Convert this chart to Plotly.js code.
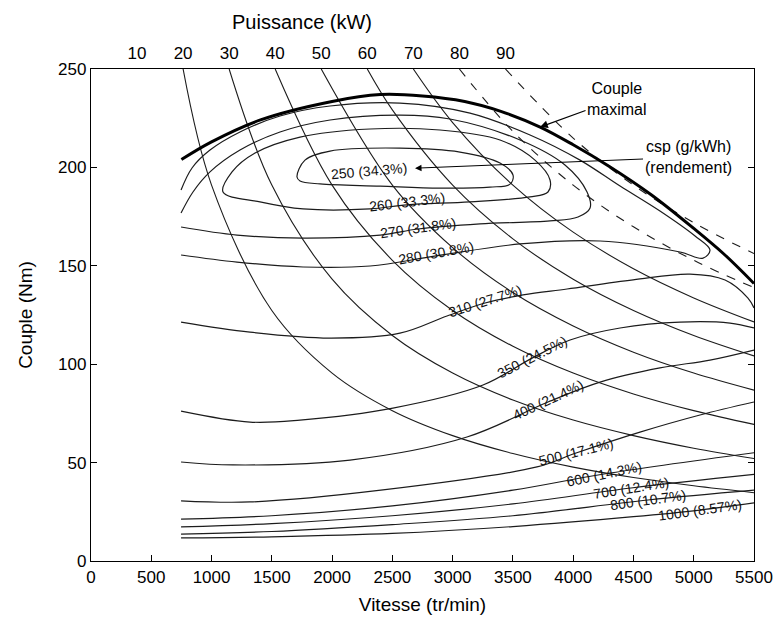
<!DOCTYPE html>
<html><head><meta charset="utf-8">
<script src="https://cdn.plot.ly/plotly-3.0.1.min.js"></script>
<style>html,body{margin:0;padding:0;background:#fff}#chart{width:776px;height:628px}</style>
</head><body><div id="chart"></div>
<script>
// ---- data (rpm, Nm) ----
const maxTorque = [[750,204],[1000,213],[1400,224],[2000,233.5],[2400,237],[2750,236.3],[3100,233.5],[3400,228.5],[3726,220.5],[4000,211.5],[4300,200.5],[4650,186],[5000,169],[5250,156],[5500,141]];

const powerLabels = ['10','20','30','40','50','60','70','80','90'];
const powerTickRpm = [382,764,1146,1528,1910,2292,2674,3056,3438];

const p20 = [[764,250],[1000,191],[1500,127.3],[2000,95.5],[2500,76.4],[3000,63.7],[3500,54.6],[4000,47.7],[4500,42.4],[5000,38.2],[5500,34.7]];
const p30 = [[1146,250],[1500,191],[2000,143.2],[2500,114.6],[3000,95.5],[3500,81.8],[4000,71.6],[4500,63.7],[5000,57.3],[5500,52.1]];
const p40 = [[1528,250],[2000,191],[2500,152.8],[3000,127.3],[3500,109.1],[4000,95.5],[4500,84.9],[5000,76.4],[5500,69.4]];
const p50 = [[1910,250],[2500,191],[3000,159.2],[3500,136.4],[4000,119.4],[4500,106.1],[5000,95.5],[5500,86.8]];
const p60 = [[2292,250],[2500,229.2],[3000,191],[3500,163.7],[4000,143.2],[4500,127.3],[5000,114.6],[5500,104.2]];
const p70 = [[2674,250],[3000,222.8],[3500,191],[4000,167.1],[4500,148.5],[5000,133.7],[5500,121.5]];
const p80 = [[3056,250],[3500,218.3],[4000,191],[4500,169.8],[5000,152.8],[5500,138.9]];
const p90 = [[3438,250],[4000,214.9],[4500,191],[5000,171.9],[5500,156.2]];

const c250 = [[1709,195.1],[1775,203.7],[1983,208.3],[2563,209.8],[3061,207.8],[3393,202.2],[3501,196.1],[3476,191.5],[3310,190],[2895,189.5],[2398,190.5],[1900,191.6],[1734,193.1],[1709,195.1]];
const c260 = [[1095,187.5],[1170,197.7],[1361,207.3],[1734,215.4],[2315,219.5],[2895,219],[3393,213.9],[3683,203.7],[3808,193.6],[3791,187.5],[3642,185],[3144,182.5],[2621,181],[2315,178.9],[1759,178.9],[1402,182.5],[1095,187.5]];
const c270 = [[747,176.8],[846,187.5],[987,197.7],[1236,208.8],[1568,218],[1983,224.1],[2563,226.6],[2978,224.6],[3559,213.9],[3932,201.2],[4115,187.5],[4140,179.4],[4040,174.8],[3808,172.8],[3227,171.3],[2713,168.7],[2398,165.6],[1759,164.1],[1211,165.6],[747,169.7]];
const c280 = [[747,188.5],[838,199.7],[987,208.8],[1236,218],[1568,226.1],[1983,231.2],[2563,232.7],[3144,227.6],[3642,216.5],[4057,203.7],[4389,190.5],[4720,177.8],[5011,165.1],[5135,158],[5077,153.9],[4886,157],[4223,162.6],[3559,161.1],[2862,155],[2315,149.9],[1759,149.4],[1211,151.9],[747,155.5]];
const c310 = [[747,121.4],[1319,116.3],[1983,113.3],[2563,115.8],[2953,124.5],[3269,131.1],[3584,135.2],[3949,138.2],[4497,142.8],[4969,145.8],[5260,142.8],[5450,133.6],[5500,128.6]];
const c350 = [[747,76.2],[1319,70.6],[1734,71.6],[2505,77.7],[3252,89.4],[3659,103.1],[3974,112.3],[4389,118.4],[4886,121.4],[5301,120.9],[5500,118.4]];
const c400 = [[747,50.3],[1178,48.8],[2149,51.3],[3119,63],[3791,80.8],[4223,90.9],[4720,98.1],[5135,102.1],[5500,107.2]];
const c500 = [[747,30.6],[1319,30],[2422,36.1],[3700,47.8],[4024,54.9],[4554,65.5],[5052,74.2],[5500,80.8]];
const c600 = [[747,21.3],[1500,23],[2500,28],[3500,36],[4256,44.2],[5500,55]];
const c700 = [[747,17.3],[1500,19],[2500,23],[3500,29],[4480,37.1],[5500,44]];
const c800 = [[747,13.7],[1500,15],[2500,18.5],[3500,23],[4621,31],[5500,36]];
const c1000 = [[747,11.7],[1500,12.3],[2500,14],[3500,17.5],[4500,22.5],[5052,25.9],[5500,29.5]];

const contourLabels = [
  ['250 (34.3%)',2306,198.2,-5],
  ['260 (33.3%)',2621,182.4,-7],
  ['270 (31.8%)',2713,169.2,-8],
  ['280 (30.8%)',2862,156.5,-10],
  ['310 (27.7%)',3269,132.1,-18],
  ['350 (24.5%)',3659,103.7,-27],
  ['400 (21.4%)',3791,81.8,-25],
  ['500 (17.1%)',4024,55.4,-14],
  ['600 (14.3%)',4256,44.2,-12],
  ['700 (12.4%)',4480,37.1,-9],
  ['800 (10.7%)',4621,31,-8],
  ['1000 (8.57%)',5052,25.9,-8]
];

// ---- build ----
const FONT = 'Liberation Sans, Arial, Helvetica, sans-serif';
const traces = [];
function addLine(pts, opts){
  traces.push({x:pts.map(p=>p[0]), y:pts.map(p=>p[1]), mode:'lines',
    line:Object.assign({color:'#1c1c1c', width:1.2, shape:'spline', smoothing:1}, opts||{}),
    hoverinfo:'skip', showlegend:false});
}
[p20,p30,p40,p50,p60,p70].forEach(p=>addLine(p,{width:1.1}));
[p80,p90].forEach(p=>addLine(p,{width:1.1, dash:'dash'}));
[c250,c260,c270,c280,c310,c350,c400,c500,c600,c700,c800,c1000].forEach(c=>addLine(c,{width:1.2}));
addLine(maxTorque,{width:3, color:'#000'});
// invisible trace to activate top axis
traces.push({x:[0,5500], y:[0,0], xaxis:'x2', mode:'markers', marker:{opacity:0}, hoverinfo:'skip', showlegend:false});

const annotations = contourLabels.map(l=>({
  x:l[1], y:l[2], xref:'x', yref:'y', text:l[0], textangle:l[3], showarrow:false,
  xanchor:'center', yanchor:'middle',
  font:{family:FONT, size:14, color:'#111'}
}));
annotations.push({x:3725, y:220.5, xref:'x', yref:'y', ax:77, ay:-28, text:'Couple<br>maximal',
  showarrow:true, arrowhead:2, arrowsize:1.3, arrowwidth:1.2, arrowcolor:'#000', font:{family:FONT,size:16,color:'#000'}});
annotations.push({x:2688, y:199.6, xref:'x', yref:'y', ax:273, ay:-11, text:'csp (g/kWh)<br>(rendement)',
  showarrow:true, arrowhead:2, arrowsize:1.3, arrowwidth:1, arrowcolor:'#000', font:{family:FONT,size:16,color:'#000'}});
annotations.push({x:0.318, y:1.0955, xref:'paper', yref:'paper', xanchor:'center', yanchor:'middle',
  text:'Puissance (kW)', showarrow:false, font:{family:FONT,size:20,color:'#000'}});

const layout = {
  width:776, height:628,
  margin:{l:91, r:22, t:69, b:67},
  paper_bgcolor:'#fff', plot_bgcolor:'#fff',
  font:{family:FONT, color:'#000'},
  showlegend:false,
  xaxis:{range:[0,5500], dtick:500, tick0:0, ticks:'inside', ticklen:6, tickcolor:'#000',
    showline:true, linecolor:'#000', linewidth:1.2, mirror:true, showgrid:false, zeroline:false,
    tickfont:{family:FONT,size:17,color:'#000'},
    title:{text:'Vitesse (tr/min)', font:{family:FONT,size:19,color:'#000'}, standoff:12}},
  xaxis2:{range:[0,5500], overlaying:'x', side:'top', tickvals:powerTickRpm, ticktext:powerLabels,
    ticks:'', showline:false, showgrid:false, zeroline:false, ticklabelstandoff:6,
    tickfont:{family:FONT,size:17,color:'#000'}},
  yaxis:{range:[0,250], dtick:50, ticks:'inside', ticklen:6, tickcolor:'#000',
    showline:true, linecolor:'#000', linewidth:1.2, mirror:'ticks', showgrid:false, zeroline:false,
    tickfont:{family:FONT,size:17,color:'#000'},
    title:{text:'Couple (Nm)', font:{family:FONT,size:19,color:'#000'}, standoff:20}},
  annotations:annotations
};
Plotly.newPlot('chart', traces, layout, {staticPlot:true, displayModeBar:false});
</script></body></html>
